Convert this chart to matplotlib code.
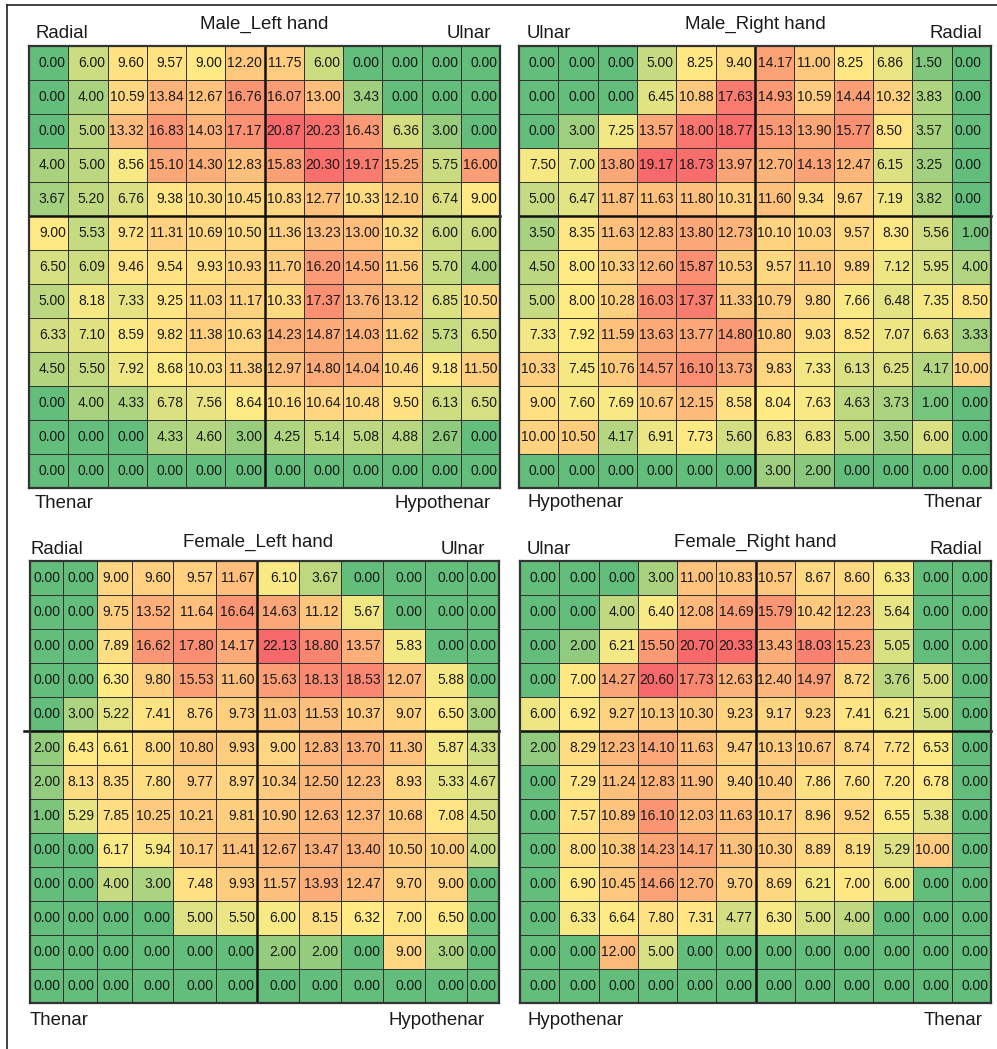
import numpy as np
import matplotlib.pyplot as plt
from matplotlib.colors import LinearSegmentedColormap, TwoSlopeNorm
from matplotlib.lines import Line2D

plt.rcParams['font.family'] = ['Liberation Sans', 'DejaVu Sans']

# pressure maps, 13 rows x 12 columns each
male_left = [
    [0.00, 6.00, 9.60, 9.57, 9.00, 12.20, 11.75, 6.00, 0.00, 0.00, 0.00, 0.00],
    [0.00, 4.00, 10.59, 13.84, 12.67, 16.76, 16.07, 13.00, 3.43, 0.00, 0.00, 0.00],
    [0.00, 5.00, 13.32, 16.83, 14.03, 17.17, 20.87, 20.23, 16.43, 6.36, 3.00, 0.00],
    [4.00, 5.00, 8.56, 15.10, 14.30, 12.83, 15.83, 20.30, 19.17, 15.25, 5.75, 16.00],
    [3.67, 5.20, 6.76, 9.38, 10.30, 10.45, 10.83, 12.77, 10.33, 12.10, 6.74, 9.00],
    [9.00, 5.53, 9.72, 11.31, 10.69, 10.50, 11.36, 13.23, 13.00, 10.32, 6.00, 6.00],
    [6.50, 6.09, 9.46, 9.54, 9.93, 10.93, 11.70, 16.20, 14.50, 11.56, 5.70, 4.00],
    [5.00, 8.18, 7.33, 9.25, 11.03, 11.17, 10.33, 17.37, 13.76, 13.12, 6.85, 10.50],
    [6.33, 7.10, 8.59, 9.82, 11.38, 10.63, 14.23, 14.87, 14.03, 11.62, 5.73, 6.50],
    [4.50, 5.50, 7.92, 8.68, 10.03, 11.38, 12.97, 14.80, 14.04, 10.46, 9.18, 11.50],
    [0.00, 4.00, 4.33, 6.78, 7.56, 8.64, 10.16, 10.64, 10.48, 9.50, 6.13, 6.50],
    [0.00, 0.00, 0.00, 4.33, 4.60, 3.00, 4.25, 5.14, 5.08, 4.88, 2.67, 0.00],
    [0.00, 0.00, 0.00, 0.00, 0.00, 0.00, 0.00, 0.00, 0.00, 0.00, 0.00, 0.00],
]

male_right = [
    [0.00, 0.00, 0.00, 5.00, 8.25, 9.40, 14.17, 11.00, 8.25, 6.86, 1.50, 0.00],
    [0.00, 0.00, 0.00, 6.45, 10.88, 17.63, 14.93, 10.59, 14.44, 10.32, 3.83, 0.00],
    [0.00, 3.00, 7.25, 13.57, 18.00, 18.77, 15.13, 13.90, 15.77, 8.50, 3.57, 0.00],
    [7.50, 7.00, 13.80, 19.17, 18.73, 13.97, 12.70, 14.13, 12.47, 6.15, 3.25, 0.00],
    [5.00, 6.47, 11.87, 11.63, 11.80, 10.31, 11.60, 9.34, 9.67, 7.19, 3.82, 0.00],
    [3.50, 8.35, 11.63, 12.83, 13.80, 12.73, 10.10, 10.03, 9.57, 8.30, 5.56, 1.00],
    [4.50, 8.00, 10.33, 12.60, 15.87, 10.53, 9.57, 11.10, 9.89, 7.12, 5.95, 4.00],
    [5.00, 8.00, 10.28, 16.03, 17.37, 11.33, 10.79, 9.80, 7.66, 6.48, 7.35, 8.50],
    [7.33, 7.92, 11.59, 13.63, 13.77, 14.80, 10.80, 9.03, 8.52, 7.07, 6.63, 3.33],
    [10.33, 7.45, 10.76, 14.57, 16.10, 13.73, 9.83, 7.33, 6.13, 6.25, 4.17, 10.00],
    [9.00, 7.60, 7.69, 10.67, 12.15, 8.58, 8.04, 7.63, 4.63, 3.73, 1.00, 0.00],
    [10.00, 10.50, 4.17, 6.91, 7.73, 5.60, 6.83, 6.83, 5.00, 3.50, 6.00, 0.00],
    [0.00, 0.00, 0.00, 0.00, 0.00, 0.00, 3.00, 2.00, 0.00, 0.00, 0.00, 0.00],
]

female_left = [
    [0.00, 0.00, 9.00, 9.60, 9.57, 11.67, 6.10, 3.67, 0.00, 0.00, 0.00, 0.00],
    [0.00, 0.00, 9.75, 13.52, 11.64, 16.64, 14.63, 11.12, 5.67, 0.00, 0.00, 0.00],
    [0.00, 0.00, 7.89, 16.62, 17.80, 14.17, 22.13, 18.80, 13.57, 5.83, 0.00, 0.00],
    [0.00, 0.00, 6.30, 9.80, 15.53, 11.60, 15.63, 18.13, 18.53, 12.07, 5.88, 0.00],
    [0.00, 3.00, 5.22, 7.41, 8.76, 9.73, 11.03, 11.53, 10.37, 9.07, 6.50, 3.00],
    [2.00, 6.43, 6.61, 8.00, 10.80, 9.93, 9.00, 12.83, 13.70, 11.30, 5.87, 4.33],
    [2.00, 8.13, 8.35, 7.80, 9.77, 8.97, 10.34, 12.50, 12.23, 8.93, 5.33, 4.67],
    [1.00, 5.29, 7.85, 10.25, 10.21, 9.81, 10.90, 12.63, 12.37, 10.68, 7.08, 4.50],
    [0.00, 0.00, 6.17, 5.94, 10.17, 11.41, 12.67, 13.47, 13.40, 10.50, 10.00, 4.00],
    [0.00, 0.00, 4.00, 3.00, 7.48, 9.93, 11.57, 13.93, 12.47, 9.70, 9.00, 0.00],
    [0.00, 0.00, 0.00, 0.00, 5.00, 5.50, 6.00, 8.15, 6.32, 7.00, 6.50, 0.00],
    [0.00, 0.00, 0.00, 0.00, 0.00, 0.00, 2.00, 2.00, 0.00, 9.00, 3.00, 0.00],
    [0.00, 0.00, 0.00, 0.00, 0.00, 0.00, 0.00, 0.00, 0.00, 0.00, 0.00, 0.00],
]

female_right = [
    [0.00, 0.00, 0.00, 3.00, 11.00, 10.83, 10.57, 8.67, 8.60, 6.33, 0.00, 0.00],
    [0.00, 0.00, 4.00, 6.40, 12.08, 14.69, 15.79, 10.42, 12.23, 5.64, 0.00, 0.00],
    [0.00, 2.00, 6.21, 15.50, 20.70, 20.33, 13.43, 18.03, 15.23, 5.05, 0.00, 0.00],
    [0.00, 7.00, 14.27, 20.60, 17.73, 12.63, 12.40, 14.97, 8.72, 3.76, 5.00, 0.00],
    [6.00, 6.92, 9.27, 10.13, 10.30, 9.23, 9.17, 9.23, 7.41, 6.21, 5.00, 0.00],
    [2.00, 8.29, 12.23, 14.10, 11.63, 9.47, 10.13, 10.67, 8.74, 7.72, 6.53, 0.00],
    [0.00, 7.29, 11.24, 12.83, 11.90, 9.40, 10.40, 7.86, 7.60, 7.20, 6.78, 0.00],
    [0.00, 7.57, 10.89, 16.10, 12.03, 11.63, 10.17, 8.96, 9.52, 6.55, 5.38, 0.00],
    [0.00, 8.00, 10.38, 14.23, 14.17, 11.30, 10.30, 8.89, 8.19, 5.29, 10.00, 0.00],
    [0.00, 6.90, 10.45, 14.66, 12.70, 9.70, 8.69, 6.21, 7.00, 6.00, 0.00, 0.00],
    [0.00, 6.33, 6.64, 7.80, 7.31, 4.77, 6.30, 5.00, 4.00, 0.00, 0.00, 0.00],
    [0.00, 0.00, 12.00, 5.00, 0.00, 0.00, 0.00, 0.00, 0.00, 0.00, 0.00, 0.00],
    [0.00, 0.00, 0.00, 0.00, 0.00, 0.00, 0.00, 0.00, 0.00, 0.00, 0.00, 0.00],
]

titles = ['Male_Left hand', 'Male_Right hand', 'Female_Left hand', 'Female_Right hand']
top_labels = [('Radial', 'Ulnar'), ('Ulnar', 'Radial'), ('Radial', 'Ulnar'), ('Ulnar', 'Radial')]
bottom_labels = [('Thenar', 'Hypothenar'), ('Hypothenar', 'Thenar'),
                 ('Thenar', 'Hypothenar'), ('Hypothenar', 'Thenar')]

W, H = 997, 1049
fig = plt.figure(figsize=(W / 100, H / 100), dpi=100)
fig.patch.set_facecolor('white')

def fx(px):
    return px / W

def fy(py):
    return 1 - py / H

# outer frame (top and left edges)
fig.add_artist(Line2D([fx(7), fx(997)], [fy(5), fy(5)], color='#222222', lw=1.2))
fig.add_artist(Line2D([fx(7), fx(7)], [fy(5), fy(1049)], color='#222222', lw=1.2))

# excel-style 3-colour scale: min green, median yellow, max red
cmap = LinearSegmentedColormap.from_list('gyr', ['#63BE7B', '#FFEB84', '#F8696B'])

# grid boxes in pixels: left, top, right, bottom
boxes = [(29, 46, 500, 488), (519, 46, 991, 488), (30, 561, 499, 1003), (520, 561, 991, 1003)]
col_widths = [None, None,
              [32.7, 34, 35, 41.7, 42.3, 41.7, 41.7, 41.7, 42, 41.7, 42.3, 32], None]
title_y = [29, 29, 546.5, 546.5]
side_y = [38, 38, 554, 554]
foot_y = [508, 507, 1025, 1025]
title_x = [264, 755, 258, 755]
side_x = [(35, 491), (527, 982), (30, 485), (527, 982)]

LABEL_FS = 13.4
CELL_FS = 10

panels = [male_left, male_right, female_left, female_right]

for k, panel in enumerate(panels):
    data = np.array(panel)
    nrow, ncol = data.shape
    x0, y0, x1, y1 = boxes[k]
    ax = fig.add_axes([fx(x0), fy(y1), fx(x1 - x0), (y1 - y0) / H])

    if col_widths[k] is None:
        xe = np.arange(ncol + 1, dtype=float)
    else:
        w = np.array(col_widths[k])
        xe = np.concatenate([[0], np.cumsum(w)]) / w.sum() * ncol
    ye = np.arange(nrow + 1, dtype=float)

    norm = TwoSlopeNorm(vmin=data.min(), vcenter=np.percentile(data, 50), vmax=data.max())
    ax.pcolormesh(xe, ye, data, cmap=cmap, norm=norm, edgecolors='#333333', linewidth=0.7)
    ax.set_xlim(0, ncol)
    ax.set_ylim(nrow, 0)
    ax.set_xticks([])
    ax.set_yticks([])
    for s in ax.spines.values():
        s.set_linewidth(1.6)
        s.set_color('#333333')

    # quadrant dividers
    ax.axvline(xe[6], color='#111111', lw=1.8)
    ext = 0.012 if k == 2 else 0
    ax.plot([-ext * ncol, ncol], [5, 5], color='#111111', lw=1.8, clip_on=False)

    for i in range(nrow):
        for j in range(ncol):
            txt = f'{data[i, j]:.2f}'
            if k == 1 and i < 5 and j >= 6:
                ax.annotate(txt, (xe[j], i + 0.5), xytext=(2.0, 0), textcoords='offset points',
                            ha='left', va='center', fontsize=CELL_FS, color='#1a1a1a')
            else:
                ax.annotate(txt, (xe[j + 1], i + 0.5), xytext=(-1.8, 0), textcoords='offset points',
                            ha='right', va='center', fontsize=CELL_FS, color='#1a1a1a')

    fig.text(fx(title_x[k]), fy(title_y[k]), titles[k], ha='center', va='baseline',
             fontsize=LABEL_FS, color='#1a1a1a')
    fig.text(fx(side_x[k][0]), fy(side_y[k]), top_labels[k][0], ha='left', va='baseline',
             fontsize=LABEL_FS, color='#1a1a1a')
    fig.text(fx(side_x[k][1]), fy(side_y[k]), top_labels[k][1], ha='right', va='baseline',
             fontsize=LABEL_FS, color='#1a1a1a')
    fig.text(fx(side_x[k][0]), fy(foot_y[k]), bottom_labels[k][0], ha='left', va='baseline',
             fontsize=LABEL_FS, color='#1a1a1a')
    fig.text(fx(side_x[k][1]), fy(foot_y[k]), bottom_labels[k][1], ha='right', va='baseline',
             fontsize=LABEL_FS, color='#1a1a1a')

fig.savefig('out.png', dpi=100, facecolor='white')
